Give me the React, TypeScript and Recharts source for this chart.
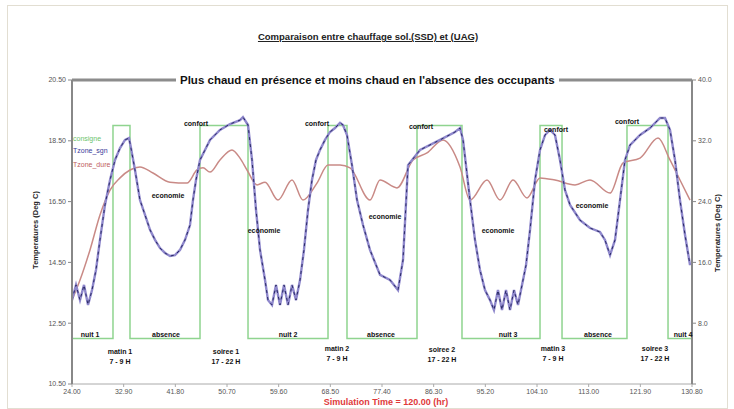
import { LineChart, Line, XAxis, YAxis, ReferenceLine } from "recharts";

// values (time axis in its own units, temperatures in deg C)
const xTicks = [24.0, 32.9, 41.8, 50.7, 59.6, 68.5, 77.4, 86.3, 95.2, 104.1, 113.0, 121.9, 130.8];
const leftTicks = [10.5, 12.5, 14.5, 16.5, 18.5, 20.5];
const rightTicks = [0, 8, 16, 24, 32, 40];

// setpoint (consigne): comfort 19, economy 12
const consigneTime = [24.0, 31.06, 33.99, 46.05, 54.32, 68.1, 71.37, 83.43, 91.18, 104.62, 108.41, 119.6, 126.67, 130.8];
const consigneTemp = [12, 19, 12, 19, 12, 19, 12, 19, 12, 19, 12, 19, 12, 12];

const sgnTime = [
  24.0, 24.69, 25.38, 26.07, 26.76, 27.45, 28.13, 28.82, 29.68, 30.55, 31.41, 32.27, 33.13, 33.82, 34.16,
  34.85, 35.71, 36.58, 37.44, 38.3, 39.16, 40.02, 40.88, 41.74, 42.6, 43.47, 44.33, 44.84, 45.36, 46.05,
  46.91, 47.77, 49.49, 51.22, 52.94, 53.45, 54.32, 55.01, 55.7, 56.39, 57.25, 57.76, 58.45, 59.14, 59.83,
  60.52, 61.21, 61.9, 62.59, 63.28, 63.96, 64.65, 65.34, 66.03, 66.72, 67.58, 68.44, 69.3, 70.17, 70.68,
  71.37, 72.23, 73.1, 74.13, 75.33, 77.06, 78.78, 80.16, 81.02, 81.88, 83.95, 87.4, 89.98, 90.84, 91.36,
  92.56, 93.42, 94.28, 95.14, 96.01, 96.69, 97.38, 98.07, 98.76, 99.45, 100.14, 100.83, 101.52, 102.21,
  102.9, 103.76, 104.62, 105.48, 106.34, 107.2, 108.06, 108.92, 109.79, 111.51, 113.23, 114.95, 115.81,
  116.68, 117.54, 118.4, 119.26, 120.12, 121.85, 123.57, 125.29, 126.15, 127.01, 127.87, 128.73, 129.6, 130.46,
];
const sgnTemp = [
  13.26, 13.76, 13.26, 13.76, 13.1, 13.59, 14.25, 15.24, 16.39, 17.21, 17.87, 18.26, 18.53, 18.59, 18.26,
  17.54, 16.55, 16.06, 15.57, 15.24, 14.97, 14.81, 14.71, 14.74, 14.91, 15.24, 15.73, 16.55, 17.21, 17.87,
  18.2, 18.53, 18.86, 19.05, 19.18, 19.28, 19.02, 17.87, 16.22, 14.91, 13.92, 13.26, 13.1, 13.76, 13.1,
  13.76, 13.1, 13.76, 13.26, 13.92, 14.91, 16.22, 17.21, 17.87, 18.2, 18.53, 18.79, 18.92, 19.09, 19.02,
  18.69, 17.7, 16.55, 15.73, 14.91, 14.09, 13.92, 13.59, 14.58, 17.7, 18.2, 18.53, 18.79, 18.92, 18.53,
  16.55, 15.24, 14.25, 13.59, 13.26, 12.93, 13.59, 12.93, 13.59, 12.93, 13.59, 13.1, 13.76, 14.41,
  15.57, 17.21, 18.2, 18.69, 18.86, 18.69, 17.87, 16.88, 16.39, 15.89, 15.63, 15.5, 15.24,
  14.74, 15.24, 16.55, 17.87, 18.36, 18.69, 18.92, 19.25, 19.25, 18.86, 17.87, 16.55, 15.4, 14.41,
];

const dureTime = [
  24.0, 25.38, 27.1, 28.82, 30.55, 32.27, 33.99, 35.71, 37.95, 40.88, 43.81, 45.53, 46.57, 47.77, 49.49,
  51.56, 52.94, 54.15, 55.87, 57.25, 59.49, 61.9, 63.79, 66.2, 68.1, 70.17, 71.89, 75.33, 77.06, 79.98,
  82.74, 85.15, 87.91, 90.84, 92.56, 95.49, 97.73, 99.97, 102.38, 104.62, 107.2, 110.65, 113.23, 116.68,
  118.92, 121.85, 124.95, 127.01, 128.73, 130.46,
];
const dureTemp = [
  13.26, 13.92, 14.91, 16.06, 16.88, 17.28, 17.54, 17.64, 17.44, 17.14, 17.11, 17.54, 17.61, 17.47, 17.87,
  18.2, 17.93, 17.54, 17.05, 17.14, 16.55, 17.21, 16.55, 17.11, 17.7, 17.7, 17.61, 16.55, 17.21, 16.95,
  17.87, 18.1, 18.53, 17.64, 16.55, 17.21, 16.55, 17.21, 16.62, 17.28, 17.21, 17.05, 17.21, 16.78,
  17.77, 17.93, 18.59, 17.87, 17.21, 16.55,
];

const rows = (t: number[], v: number[]) => t.map((x, i) => ({ t: x, v: v[i] }));

const FONT = "Arial, 'Liberation Sans', sans-serif";
const TICK = { fontSize: 7, fill: "#555", fontFamily: FONT };

const notes = [
  { text: "confort", x: 196, y: 125 },
  { text: "economie", x: 168, y: 197 },
  { text: "confort", x: 317, y: 125 },
  { text: "economie", x: 264, y: 232 },
  { text: "economie", x: 385, y: 218 },
  { text: "confort", x: 421, y: 128 },
  { text: "economie", x: 498, y: 232 },
  { text: "confort", x: 556, y: 131 },
  { text: "economie", x: 592, y: 207 },
  { text: "confort", x: 627, y: 123 },
  { text: "nuit 1", x: 90, y: 336 },
  { text: "absence", x: 166, y: 336 },
  { text: "nuit 2", x: 288, y: 336 },
  { text: "absence", x: 381, y: 336 },
  { text: "nuit 3", x: 508, y: 336 },
  { text: "absence", x: 598, y: 336 },
  { text: "nuit 4", x: 683, y: 336 },
];

const periods = [
  { a: "matin 1", b: "7 - 9 H", x: 120, y: 352 },
  { a: "soiree 1", b: "17 - 22 H", x: 226, y: 352 },
  { a: "matin 2", b: "7 - 9 H", x: 337, y: 349 },
  { a: "soiree 2", b: "17 - 22 H", x: 442, y: 350 },
  { a: "matin 3", b: "7 - 9 H", x: 553, y: 349 },
  { a: "soiree 3", b: "17 - 22 H", x: 655, y: 349 },
];

const legend = [
  { text: "consigne", color: "#6cc46c", y: 140 },
  { text: "Tzone_sgn", color: "#3a3a9a", y: 152 },
  { text: "Tzone_dure", color: "#c06060", y: 166 },
];

const abs = (x: number, y: number): React.CSSProperties => ({
  position: "absolute",
  left: x,
  top: y,
  fontFamily: FONT,
  whiteSpace: "nowrap",
});

export default function App() {
  return (
    <div style={{ position: "absolute", left: 0, top: 0, width: 734, height: 409, background: "#fff", overflow: "hidden" }}>
      <div style={{ position: "absolute", left: 7, top: 5, width: 719, height: 402, border: "1px solid #e2ded2" }} />
      <LineChart width={734} height={409} margin={{ top: 80, right: 0, bottom: 0, left: 0 }}>
        <XAxis
          dataKey="t"
          type="number"
          domain={[24, 130.8]}
          ticks={xTicks}
          allowDataOverflow
          height={25}
          tick={TICK}
          tickSize={3}
          tickFormatter={(v: number) => v.toFixed(2)}
          axisLine={{ stroke: "#aaa" }}
          tickLine={{ stroke: "#aaa" }}
        />
        <YAxis
          yAxisId="left"
          domain={[10.5, 20.5]}
          ticks={leftTicks}
          allowDataOverflow
          width={72}
          tick={TICK}
          tickSize={4}
          tickFormatter={(v: number) => v.toFixed(2)}
          axisLine={{ stroke: "#888", strokeWidth: 2 }}
          tickLine={{ stroke: "#888" }}
        />
        <YAxis
          yAxisId="right"
          orientation="right"
          type="number"
          domain={[0, 40]}
          ticks={rightTicks}
          allowDataOverflow
          width={42}
          tick={TICK}
          tickSize={4}
          tickFormatter={(v: number) => (v === 0 ? "" : v.toFixed(1))}
          axisLine={{ stroke: "#888", strokeWidth: 2 }}
          tickLine={{ stroke: "#888" }}
        />
        <ReferenceLine yAxisId="left" y={20.5} stroke="#8c8c8c" strokeWidth={3} />
        <Line
          yAxisId="left"
          data={rows(consigneTime, consigneTemp)}
          dataKey="v"
          type="stepAfter"
          stroke="#8fd48f"
          strokeWidth={1.5}
          dot={false}
          isAnimationActive={false}
        />
        <Line
          yAxisId="left"
          data={rows(dureTime, dureTemp)}
          dataKey="v"
          type="monotone"
          stroke="#c98a86"
          strokeWidth={1.5}
          dot={false}
          isAnimationActive={false}
        />
        <Line
          yAxisId="left"
          data={rows(sgnTime, sgnTemp)}
          dataKey="v"
          type="linear"
          stroke="#8f88cc"
          strokeWidth={2.4}
          dot={false}
          isAnimationActive={false}
        />
        <Line
          yAxisId="left"
          data={rows(sgnTime, sgnTemp)}
          dataKey="v"
          type="linear"
          stroke="#2a2a66"
          strokeWidth={1}
          strokeDasharray="3 4"
          dot={false}
          isAnimationActive={false}
        />
      </LineChart>

      <div style={{ ...abs(0, 31), width: 734, textAlign: "center", fontSize: 9.5, fontWeight: "bold", color: "#222" }}>
        <span style={{ textDecoration: "underline", marginLeft: 2 }}>Comparaison entre chauffage sol.(SSD) et (UAG)</span>
      </div>
      <div style={{ ...abs(176, 74), padding: "0 4px", background: "#fff", fontSize: 11.5, fontWeight: "bold", color: "#111" }}>
        Plus chaud en présence et moins chaud en l'absence des occupants
      </div>

      {legend.map((l) => (
        <div key={l.text} style={{ ...abs(73, l.y - 5), fontSize: 7, color: l.color, background: "#fff", paddingRight: 1 }}>
          {l.text}
        </div>
      ))}

      {notes.map((n, i) => (
        <div key={i} style={{ ...abs(n.x, n.y - 5), transform: "translateX(-50%)", fontSize: 7, fontWeight: "bold", color: "#111" }}>
          {n.text}
        </div>
      ))}

      {periods.map((p) => (
        <div key={p.a} style={{ ...abs(p.x, p.y - 5), transform: "translateX(-50%)", fontSize: 7, fontWeight: "bold", color: "#111", textAlign: "center", lineHeight: "10px" }}>
          {p.a}
          <br />
          {p.b}
        </div>
      ))}

      <div style={{ ...abs(35, 230), transform: "translate(-50%, -50%) rotate(-90deg)", fontSize: 7.5, fontWeight: "bold", color: "#222" }}>
        Temperatures (Deg C)
      </div>
      <div style={{ ...abs(717, 233), transform: "translate(-50%, -50%) rotate(-90deg)", fontSize: 7.5, fontWeight: "bold", color: "#222" }}>
        Temperatures (Deg C)
      </div>
      <div style={{ ...abs(386, 397), transform: "translateX(-50%)", fontSize: 9, fontWeight: "bold", color: "#e03a3a" }}>
        Simulation Time = 120.00 (hr)
      </div>
    </div>
  );
}
